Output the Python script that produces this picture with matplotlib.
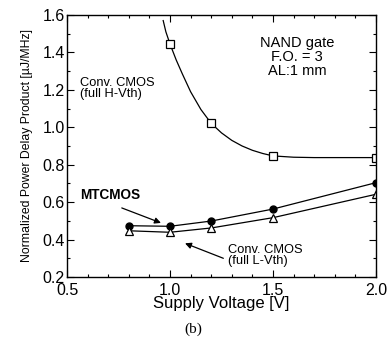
import numpy as np
import matplotlib.pyplot as plt
from matplotlib.ticker import MultipleLocator

# Data
volt = [0.8, 1.0, 1.2, 1.5, 2.0]
pdp_mtcmos = [0.474, 0.471, 0.499, 0.563, 0.704]
pdp_lvth = [0.447, 0.439, 0.462, 0.517, 0.642]

volt_hvth = [1.0, 1.2, 1.5, 2.0]
pdp_hvth = [1.445, 1.021, 0.847, 0.838]

# Fitted curve through the H-Vth points
curve_x = [0.967, 0.98, 1.0, 1.03, 1.06, 1.1, 1.15, 1.2, 1.25, 1.3, 1.35,
           1.4, 1.45, 1.5, 1.6, 1.7, 1.8, 2.0]
curve_y = [1.57, 1.51, 1.445, 1.36, 1.285, 1.19, 1.095, 1.021, 0.97, 0.93,
           0.9, 0.877, 0.86, 0.847, 0.840, 0.838, 0.838, 0.838]

plt.rcParams["font.family"] = ["Liberation Sans", "DejaVu Sans"]

fig = plt.figure(figsize=(3.88, 3.48), dpi=100)
ax = fig.add_axes([0.1727, 0.204, 0.7963, 0.753])

ax.plot(curve_x, curve_y, color="black", lw=0.9)
ax.plot(volt_hvth, pdp_hvth, "s", color="black", mfc="white", ms=5.5, mew=0.9)
ax.plot(volt, pdp_mtcmos, "o-", color="black", ms=5, lw=0.9)
ax.plot(volt, pdp_lvth, "^-", color="black", mfc="white", ms=6, mew=0.9, lw=0.9)

ax.set_xlim(0.5, 2.0)
ax.set_ylim(0.2, 1.6)
ax.xaxis.set_major_locator(MultipleLocator(0.5))
ax.xaxis.set_minor_locator(MultipleLocator(0.1))
ax.yaxis.set_major_locator(MultipleLocator(0.2))
ax.yaxis.set_minor_locator(MultipleLocator(0.1))
ax.xaxis.set_major_formatter(lambda v, p: f"{v:.1f}")
ax.yaxis.set_major_formatter(lambda v, p: f"{v:.1f}")
ax.tick_params(which="both", direction="in", top=True, right=True,
               labelsize=11.5, width=0.8)
ax.tick_params(axis="y", pad=1.5)
ax.tick_params(axis="x", pad=4)
ax.tick_params(which="major", length=5)
ax.tick_params(which="minor", length=2.5)
for s in ax.spines.values():
    s.set_linewidth(1.0)

ax.set_xlabel("Supply Voltage [V]", fontsize=12, labelpad=-1)
ax.set_ylabel("Normalized Power Delay Product [\u00b5J/MHz]", fontsize=8.8,
              labelpad=7)

ax.text(1.617, 1.376, "NAND gate\nF.O. = 3\nAL:1 mm", ha="center", va="center",
        fontsize=10.5, linespacing=1.0)
ax.text(0.563, 1.207, "Conv. CMOS\n(full H-Vth)", ha="left", va="center",
        fontsize=9.3, linespacing=0.95)
ax.text(0.563, 0.638, "MTCMOS", ha="left", va="center", fontsize=9.8,
        fontweight="bold")
ax.text(1.281, 0.315, "Conv. CMOS\n(full L-Vth)", ha="left", va="center",
        fontsize=9.3, linespacing=0.95)

arrow = dict(arrowstyle="-|>", color="black", lw=0.9,
             mutation_scale=9, shrinkA=0, shrinkB=0)
ax.annotate("", xy=(0.956, 0.489), xytext=(0.766, 0.569), arrowprops=arrow)
ax.annotate("", xy=(1.073, 0.380), xytext=(1.259, 0.300), arrowprops=arrow)

fig.text(0.497, 1 - 329 / 348, "(b)", ha="center", va="center",
         fontsize=11, family="Liberation Serif")

fig.savefig("out.png", dpi=100)
